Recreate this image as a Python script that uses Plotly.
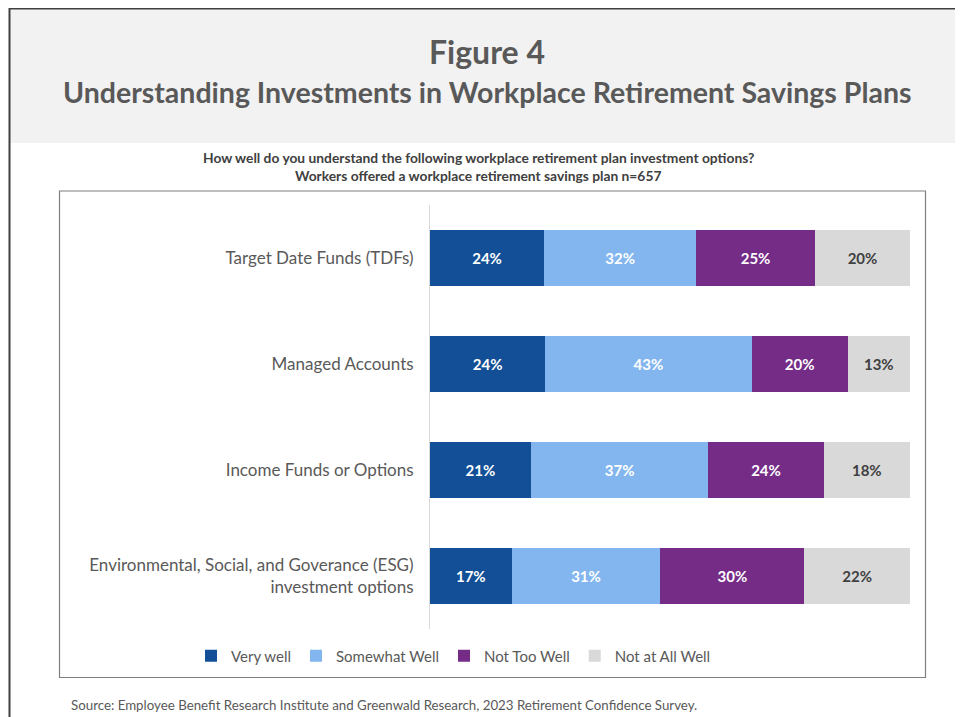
import plotly.graph_objects as go

categories = [
    "Target Date Funds (TDFs)",
    "Managed Accounts",
    "Income Funds or Options",
    "Environmental, Social, and Goverance (ESG)<br>investment options",
]
series_names = ["Very well", "Somewhat Well", "Not Too Well", "Not at All Well"]
very_well = [24, 24, 21, 17]
somewhat_well = [32, 43, 37, 31]
not_too_well = [25, 20, 24, 30]
not_at_all_well = [20, 13, 18, 22]

colors = ["#124f96", "#83b6ee", "#742c87", "#d9d9d9"]
text_colors = ["#ffffff", "#ffffff", "#ffffff", "#404040"]

# The page body has an 8px margin; layout is specified in reference-pixel
# coordinates and shifted by OFF to figure coordinates.
OFF = 8
W, H = 963 - OFF, 717 - OFF
PL, PR, PT, PB = 430 - OFF, 910 - OFF, 205 - OFF, 629 - OFF  # plot area (figure px)
FONT = "Lato"

def xp(px):
    return (px - OFF - PL) / (PR - PL)

def yp(py):
    return (PB - (py - OFF)) / (PB - PT)

fig = go.Figure()
for name, vals, c, tc in zip(series_names,
                             [very_well, somewhat_well, not_too_well, not_at_all_well],
                             colors, text_colors):
    fig.add_trace(go.Bar(
        name=name, y=categories, x=vals, orientation="h",
        marker=dict(color=c, line=dict(width=0)),
        text=[f"{v}%" for v in vals], textposition="inside",
        insidetextanchor="middle",
        textfont=dict(family=FONT, size=15, color=tc, weight="bold"),
        hoverinfo="skip",
    ))

shapes = [
    # header band
    dict(type="rect", xref="paper", yref="paper", x0=xp(9), x1=xp(963), y0=yp(143), y1=yp(8),
         fillcolor="#f2f2f2", line=dict(width=0), layer="below"),
    # outer frame lines
    dict(type="line", xref="paper", yref="paper", x0=xp(9), x1=xp(963), y0=yp(8.7), y1=yp(8.7),
         line=dict(color="#404040", width=1.5)),
    dict(type="line", xref="paper", yref="paper", x0=xp(9.5), x1=xp(9.5), y0=yp(8), y1=yp(717),
         line=dict(color="#404040", width=2)),
    # inner chart box
    dict(type="rect", xref="paper", yref="paper", x0=xp(59.5), x1=xp(925.5), y0=yp(677.5), y1=yp(191),
         fillcolor="rgba(0,0,0,0)", line=dict(color="#7f7f7f", width=1.2), layer="below"),
]

annotations = [
    dict(text="<b>Figure 4</b>", x=xp(487), y=yp(52), xref="paper", yref="paper",
         showarrow=False, font=dict(family=FONT, size=32, color="#595959"),
         xanchor="center", yanchor="middle"),
    dict(text="<b>Understanding Investments in Workplace Retirement Savings Plans</b>",
         x=xp(487), y=yp(92), xref="paper", yref="paper", showarrow=False,
         font=dict(family=FONT, size=28.5, color="#595959"), xanchor="center", yanchor="middle"),
    dict(text="<b>How well do you understand the following workplace retirement plan investment options?</b>",
         x=xp(478), y=yp(158), xref="paper", yref="paper", showarrow=False,
         font=dict(family=FONT, size=13.8, color="#404040"), xanchor="center", yanchor="middle"),
    dict(text="<b>Workers offered a workplace retirement savings plan n=657</b>",
         x=xp(478), y=yp(175), xref="paper", yref="paper", showarrow=False,
         font=dict(family=FONT, size=13.8, color="#404040"), xanchor="center", yanchor="middle"),
    dict(text="Source: Employee Benefit Research Institute and Greenwald Research, 2023 Retirement Confidence Survey.",
         x=xp(69), y=yp(705), xref="paper", yref="paper", showarrow=False,
         font=dict(family=FONT, size=13.3, color="#595959"), xanchor="left", yanchor="middle"),
]

fig.update_layout(
    width=W, height=H,
    margin=dict(l=PL, r=W - PR, t=PT, b=H - PB, pad=0),
    paper_bgcolor="#ffffff", plot_bgcolor="#ffffff",
    barmode="stack", barnorm="percent", bargap=0.47,
    showlegend=True,
    legend=dict(orientation="h", xref="paper", yref="paper",
                x=xp(191), y=yp(656), xanchor="left", yanchor="middle",
                font=dict(family=FONT, size=15, color="#595959"),
                itemwidth=30, traceorder="normal", itemclick=False, tracegroupgap=0),
    xaxis=dict(range=[0, 100], visible=False, showgrid=False, fixedrange=True),
    yaxis=dict(autorange="reversed", showgrid=False, showline=True, linecolor="#d9d9d9",
               linewidth=1, ticks="", ticklabelstandoff=12,
               tickfont=dict(family=FONT, size=17, color="#595959"), fixedrange=True),
    shapes=shapes, annotations=annotations,
    uniformtext=dict(mode="show", minsize=8),
)

fig.write_html("out.html")
